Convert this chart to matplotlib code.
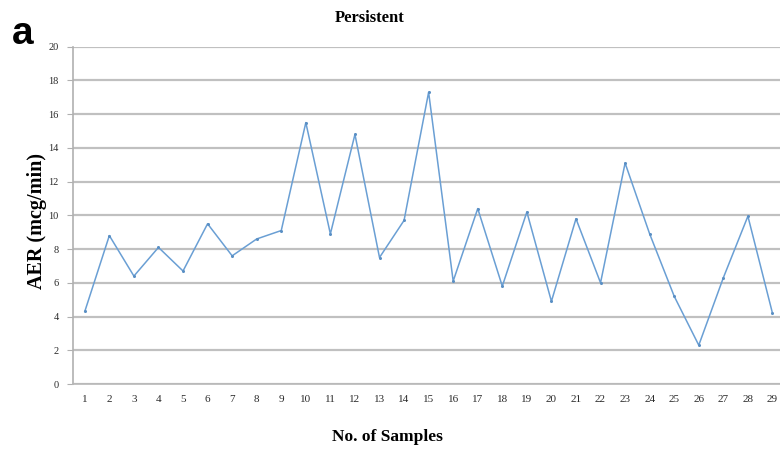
import matplotlib
matplotlib.use("Agg")
import matplotlib.pyplot as plt

samples = list(range(1, 30))
aer = [4.3, 8.8, 6.4, 8.1, 6.7, 9.5, 7.6, 8.6, 9.1, 15.5, 8.9, 14.8, 7.5, 9.7,
       17.3, 6.1, 10.4, 5.8, 10.2, 4.9, 9.8, 6.0, 13.1, 8.9, 5.2, 2.3, 6.3, 9.95, 4.2]
yticks = list(range(0, 21, 2))

W, H = 780, 449
fig = plt.figure(figsize=(W / 100, H / 100), dpi=100)
left, right, bottom, top = 72.5, 780, 384, 46.7
ax = fig.add_axes([left / W, 1 - bottom / H, (right - left) / W, (bottom - top) / H])

serif = ["Liberation Serif", "DejaVu Serif"]

ax.plot(samples, aer, color="#6a9fd4", lw=1.1, marker="o", ms=2.2,
        markerfacecolor="#5a8fc4", markeredgewidth=0, zorder=3)

ax.set_ylim(0, 20)
ax.set_xlim(0.5, 0.5 + (right - left) / 24.56)
ax.set_yticks(yticks)
ax.set_xticks(samples)
ax.yaxis.grid(True, color="#c0c0c0", lw=1.6)
ax.set_axisbelow(True)

for s in ["top", "right"]:
    ax.spines[s].set_visible(False)
ax.spines["left"].set_color("#b0b0b0")
ax.spines["left"].set_linewidth(1.2)
ax.spines["bottom"].set_color("#b8b8b8")
ax.spines["bottom"].set_linewidth(1.2)
ax.spines["bottom"].set_linestyle((0, (3, 1)))

ax.tick_params(axis="y", length=4, color="#b0b0b0", pad=6, labelsize=7.5, labelcolor="#2a2a2a")
ax.tick_params(axis="x", length=0, pad=8, labelsize=8, labelcolor="#2a2a2a")
for lbl in ax.get_xticklabels() + ax.get_yticklabels():
    lbl.set_fontfamily(serif)

fig.text(370 / W, 1 - 18 / H, "Persistent", ha="center", va="center",
         fontsize=12, fontweight="bold", family=serif)
fig.text(387 / W, 1 - 437 / H, "No. of Samples", ha="center", va="center",
         fontsize=12.5, fontweight="bold", family=serif)
fig.text(37 / W, 1 - 221 / H, "AER (mcg/min)", ha="center", va="center",
         rotation=90, fontsize=14.5, fontweight="bold", family=serif)
fig.text(23 / W, 1 - 34 / H, "a", ha="center", va="center",
         fontsize=28, fontweight="bold", family=["Liberation Sans", "DejaVu Sans"])

fig.savefig("out.png", dpi=100)
